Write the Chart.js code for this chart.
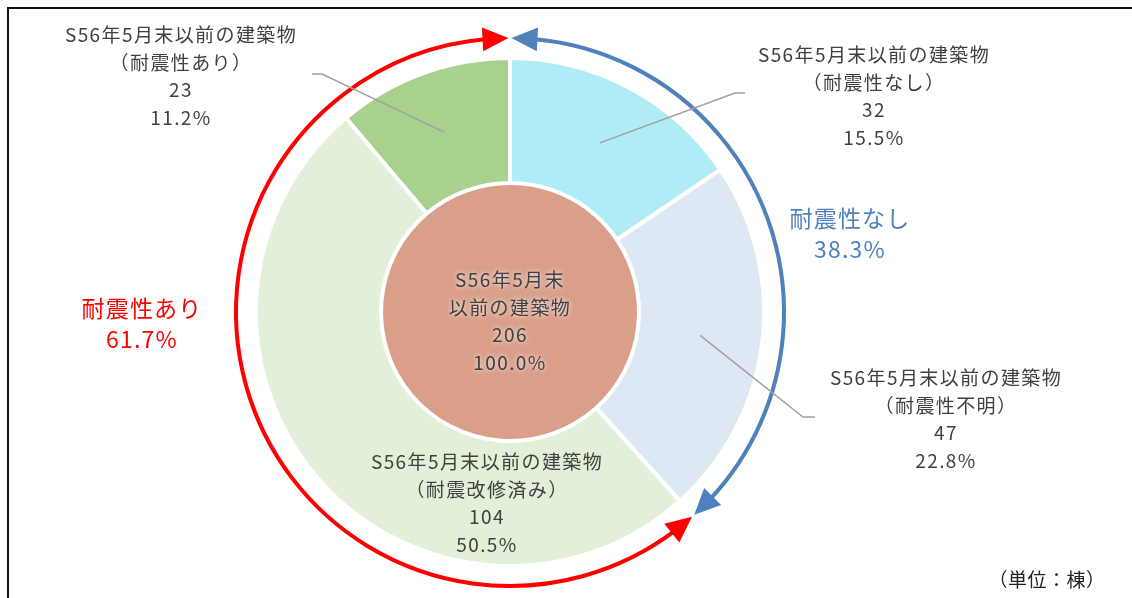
<!DOCTYPE html>
<html lang="ja">
<head>
<meta charset="utf-8">
<script src="https://cdn.jsdelivr.net/npm/chart.js@4"></script>
<style>
  html, body { margin: 0; padding: 0; background: #fff; }
  .wrap { position: relative; width: 1132px; height: 598px; overflow: hidden; }
  .frame { position: absolute; left: 7px; top: 7px; right: 0; bottom: 0; border-top: 2px solid #111; border-left: 2px solid #111; pointer-events: none; }
  canvas { position: absolute; left: 0; top: 0; }
</style>
</head>
<body>
<div class="wrap">
  <canvas id="quakeChart" width="1132" height="598"></canvas>
  <div class="frame"></div>
</div>
<script>
// outer ring: buildings built before end of May S56
const ringLabels = ['（耐震性なし）', '（耐震性不明）', '（耐震改修済み）', '（耐震性あり）'];
const ringValues = [32, 47, 104, 23];
const ringColors = ['#b0ecf6', '#dde8f4', '#e2efd9', '#a9d18e'];
const ringTitle = 'S56年5月末以前の建築物';

// center circle
const totalTitle = ['S56年5月末', '以前の建築物'];
const totalValues = [206];

// arrows round the ring
const groupNames = ['耐震性なし', '耐震性あり'];
const groupMembers = [[0, 1], [2, 3]];
const groupColors = ['#4f81bd', '#ff0000'];

const unitLabel = '（単位：棟）';

// label layout, offsets from the pie center
const labelSpots = [
  { dx: 364, dy: -257, leader: [[225, -219], [235, -219]] },
  { dx: 436, dy: 66, leader: [[293, 105], [305, 105]] },
  { dx: -23, dy: 150, leader: null },
  { dx: -329, dy: -277, leader: [[-188, -238], [-198, -238]] },
];
const groupSpots = [{ dx: 340, dy: -94 }, { dx: -368, dy: -4 }];

const FONT = '"Noto Sans CJK JP", "Noto Sans", sans-serif';
const pct = v => (v / totalValues[0] * 100).toFixed(1) + '%';

const arrowPlugin = {
  id: 'groupArrows',
  afterDatasetsDraw(chart) {
    const ctx = chart.ctx;
    const arcs = chart.getDatasetMeta(0).data;
    const { x, y, outerRadius } = arcs[0];
    const r = outerRadius + 20;
    const L = 26, W = 24, gap = 1.5;

    const head = (theta, dir, color) => {
      const tb = theta - dir * L / r;
      const px = x + r * Math.cos(theta), py = y + r * Math.sin(theta);
      const bx = x + r * Math.cos(tb), by = y + r * Math.sin(tb);
      let dx = px - bx, dy = py - by;
      const len = Math.hypot(dx, dy);
      dx /= len; dy /= len;
      ctx.beginPath();
      ctx.moveTo(px, py);
      ctx.lineTo(bx - dy * W / 2, by + dx * W / 2);
      ctx.lineTo(bx + dy * W / 2, by - dx * W / 2);
      ctx.closePath();
      ctx.fillStyle = color;
      ctx.fill();
    };

    ctx.save();
    groupMembers.forEach((m, i) => {
      const start = arcs[m[0]].startAngle;
      const end = arcs[m[m.length - 1]].endAngle;
      ctx.beginPath();
      ctx.arc(x, y, r, start + (L - 3) / r, end - (L - 3) / r);
      ctx.strokeStyle = groupColors[i];
      ctx.lineWidth = 4;
      ctx.stroke();
      head(start + gap / r, -1, groupColors[i]);
      head(end - gap / r, 1, groupColors[i]);
    });
    ctx.restore();
  }
};

const labelPlugin = {
  id: 'ringLabels',
  afterDraw(chart) {
    const ctx = chart.ctx;
    const arcs = chart.getDatasetMeta(0).data;
    const { x, y } = arcs[0];
    const lh = 27.5;
    ctx.save();

    // leader lines
    ctx.strokeStyle = '#a0a0a0';
    ctx.lineWidth = 1.5;
    arcs.forEach((arc, i) => {
      const spot = labelSpots[i];
      if (!spot.leader) return;
      const p = arc.tooltipPosition();
      ctx.beginPath();
      ctx.moveTo(p.x, p.y);
      spot.leader.forEach(([dx, dy]) => ctx.lineTo(x + dx, y + dy));
      ctx.stroke();
    });

    ctx.textAlign = 'center';
    ctx.textBaseline = 'middle';
    ctx.font = '19px ' + FONT;
    ctx.letterSpacing = '1.4px';
    ctx.fillStyle = '#404040';
    ringValues.forEach((v, i) => {
      const s = labelSpots[i];
      [ringTitle, ringLabels[i], String(v), pct(v)].forEach((t, k) => {
        ctx.fillText(t, x + s.dx, y + s.dy + k * lh);
      });
    });

    // center circle text with a white glow
    ctx.shadowColor = '#ffffff';
    ctx.shadowBlur = 5;
    [totalTitle[0], totalTitle[1], String(totalValues[0]), pct(totalValues[0])].forEach((t, k) => {
      ctx.fillText(t, x, y - 32 + k * lh);
    });
    ctx.shadowBlur = 0;

    // group totals
    ctx.font = '23px ' + FONT;
    ctx.letterSpacing = '1.2px';
    groupMembers.forEach((m, i) => {
      const sum = m.reduce((a, j) => a + ringValues[j], 0);
      const s = groupSpots[i];
      ctx.fillStyle = groupColors[i];
      ctx.fillText(groupNames[i], x + s.dx, y + s.dy);
      ctx.fillText(pct(sum), x + s.dx, y + s.dy + 31);
    });

    ctx.font = '19px ' + FONT;
    ctx.letterSpacing = '0.5px';
    ctx.fillStyle = '#222';
    ctx.textAlign = 'center';
    ctx.fillText(unitLabel, 1047, 580);
    ctx.restore();
  }
};

new Chart(document.getElementById('quakeChart'), {
  type: 'doughnut',
  data: {
    labels: ringLabels,
    datasets: [
      { data: ringValues, backgroundColor: ringColors, borderColor: '#ffffff', borderWidth: 4, weight: 125 },
      { data: totalValues, backgroundColor: ['#d99f89'], borderWidth: 0, weight: 129 },
    ]
  },
  options: {
    responsive: false,
    animation: false,
    cutout: 0,
    layout: { padding: { left: 198, right: 310, top: 56, bottom: 30 } },
    plugins: { legend: { display: false }, tooltip: { enabled: false } },
  },
  plugins: [arrowPlugin, labelPlugin],
});
</script>
</body>
</html>
